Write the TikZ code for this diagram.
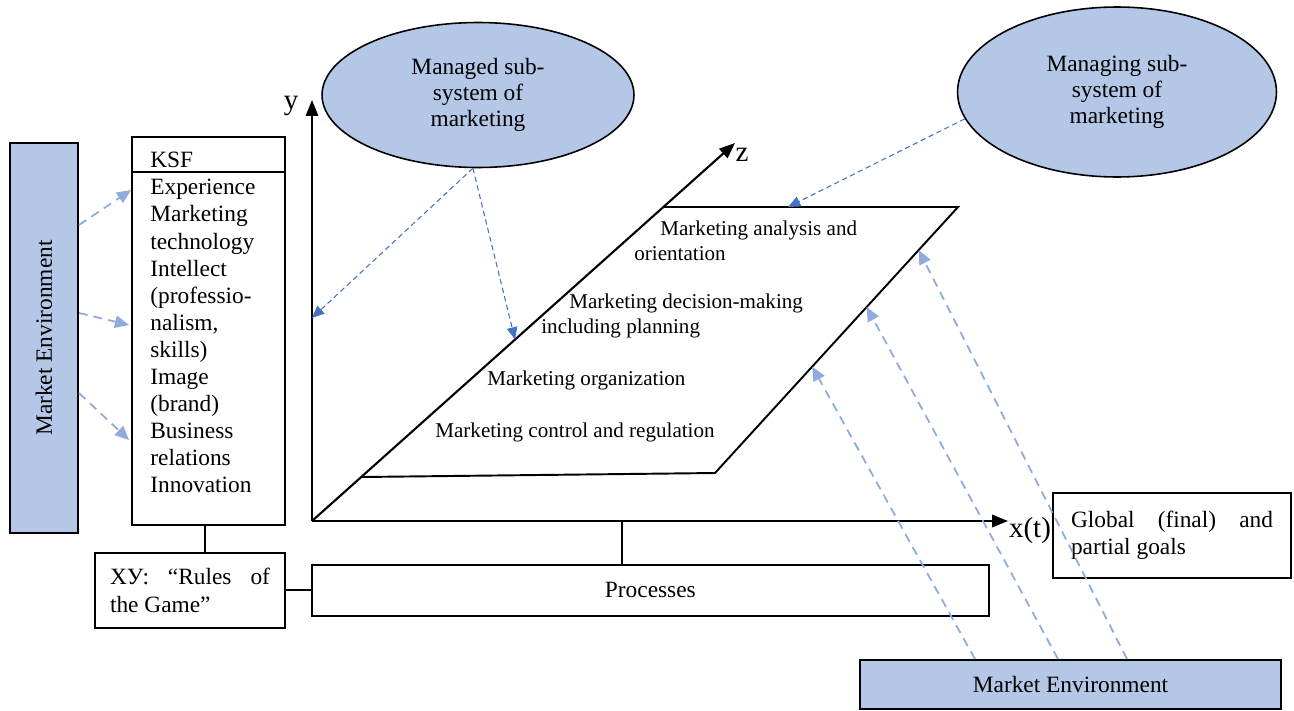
\documentclass[tikz,border=0pt]{standalone}
\usepackage{fontspec}
\setmainfont{Liberation Serif}
\usepackage{tikz}
\usetikzlibrary{shapes.geometric,positioning,calc,arrows.meta}
\definecolor{envblue}{HTML}{B4C7E7}
\definecolor{flowblue}{HTML}{8FAADC}
\definecolor{ctrlblue}{HTML}{4472C4}

\begin{document}
\begin{tikzpicture}[x=0.02cm,y=-0.02cm,
    font=\fontsize{13.3}{15.4}\selectfont,
    box/.style={draw=black,line width=1.1pt,inner sep=0pt},
    envbox/.style={box,fill=envblue},
    subsys/.style={ellipse,draw=black,line width=0.9pt,fill=envblue,
                   inner sep=0pt,align=center,font=\fontsize{13.3}{14.8}\selectfont},
    axis/.style={line width=1.2pt,-{Triangle[length=9pt,width=7pt]}},
    axislabel/.style={inner sep=0pt,font=\fontsize{16.5}{18}\selectfont},
    planetext/.style={inner sep=0pt,align=left,font=\fontsize{12}{14.2}\selectfont},
    flow/.style={draw=flowblue,line width=1pt,dash pattern=on 5pt off 3.5pt,
                 -{Triangle[length=8pt,width=7pt]}},
    ctrl/.style={draw=ctrlblue,line width=0.6pt,dash pattern=on 3pt off 2pt,
                 -{Triangle[length=7pt,width=6pt]}}]
   \useasboundingbox (0,0) rectangle (1294,710);

   % environment and key success factors
   \node[envbox,
         rotate=90,
         minimum width=7.8cm,
         minimum height=1.36cm] (envl) at (44,338) {Market Environment};
   \node[box,
         minimum width=3.06cm,
         minimum height=7.76cm] (ksf) at (208.5,331) {};
   \draw[line width=1.1pt] (132,172) -- (286,172);
   \node[anchor=north west,
         align=left,
         inner sep=0pt] (ksflist) at (150,152)
        {KSF\\Experience\\Marketing\\technology\\Intellect\\(professio-\\nalism,\\skills)\\Image\\(brand)\\Business\\relations\\Innovation};
   \node[box,
         below=0.52cm of ksf,
         xshift=-0.37cm,
         minimum width=3.8cm,
         minimum height=1.5cm] (xy) {};
   \node[text width=3.2cm,
         align=justify,
         inner sep=0pt] (xytext) at (xy.center) {XУ: “Rules of the Game”};
   \node[box,
         right=0.5cm of xy,
         minimum width=13.54cm,
         minimum height=1.02cm] (prc) {Processes};

   % subsystems
   \node[subsys,
         minimum width=6.24cm,
         minimum height=2.9cm] (managed) at (478,95) {Managed sub-\\system of\\marketing};
   \node[subsys,
         minimum width=6.38cm,
         minimum height=3.4cm] (managing) at (1117,92) {Managing sub-\\system of\\marketing};

   % axes
   \coordinate (o) at (312,521);
   \coordinate (ytip) at (312,100);
   \coordinate (xtip) at (1008,521);
   \coordinate (ztip) at (735,143);
   \draw[axis] (o) -- (ytip);
   \draw[axis] (o) -- (xtip);
   \draw[axis] (o) -- (ztip);
   \node[axislabel] (ylab) at (291,106) {y};
   \node[axislabel] (xlab) at (1030,531) {x(t)};
   \node[axislabel] (zlab) at (742,155) {z};

   % plane of functions
   \coordinate (ptl) at (663,207);
   \coordinate (ptr) at (958,207);
   \coordinate (pbr) at (715,473);
   \coordinate (pbl) at (362,477);
   \draw[line width=1.1pt] (ptl) -- (ptr) -- (pbr) -- (pbl);
   \node[planetext, anchor=north west] (analysis) at (634,221)
        {\hspace*{0.52cm}Marketing analysis and\\orientation};
   \node[planetext, anchor=north west] (decision) at (541,294)
        {\hspace*{0.56cm}Marketing decision-making\\including planning};
   \node[planetext, anchor=north west] (organization) at (487,371) {Marketing organization};
   \node[planetext, anchor=north west] (control) at (435,423) {Marketing control and regulation};

   % goals and outer environment
   \node[box,
         minimum width=4.76cm,
         minimum height=1.7cm] (goals) at (1172,535.5) {};
   \node[text width=4.04cm,
         align=justify,
         inner sep=0pt] (goalstext) at (goals.center) {Global (final) and partial goals};
   \node[envbox,
         minimum width=8.42cm,
         minimum height=0.98cm] (envb) at (1070.5,684.5) {Market Environment};

   % links
   \coordinate (pj) at (622,521);
   \draw[line width=1.1pt] (ksf.south -| 205,0) -- (xy.north -| 205,0);
   \draw[line width=1.1pt] (xy.east) -- (prc.west);
   \draw[line width=1.1pt] (pj) -- (pj |- prc.north);

   % influences of the environment
   \draw[flow] ($(envl.south)+(0,-113)$) -- ($(ksf.west)+(0,-141)$);
   \draw[flow] ($(envl.south)+(0,-25)$) -- ($(ksf.west)+(-2,-6)$);
   \draw[flow] ($(envl.south)+(0,55)$) -- ($(ksf.west)+(-2,109)$);
   \draw[flow] ($(envb.north)+(-95.5,0)$) -- ($(ptr)!0.6!(pbr)$);
   \draw[flow] ($(envb.north)+(-12.5,0)$) -- ($(ptr)!0.376!(pbr)$);
   \draw[flow] ($(envb.north)+(56.5,0)$) -- ($(ptr)!0.162!(pbr)$);

   % control of the subsystems
   \draw[ctrl] (managed.266) -- (312,318);
   \draw[ctrl] (managed.266) -- ($(o)!0.48!(ztip)$);
   \draw[ctrl] (managing.190) -- ($(ptl)!0.424!(ptr)$);
\end{tikzpicture}
\end{document}
